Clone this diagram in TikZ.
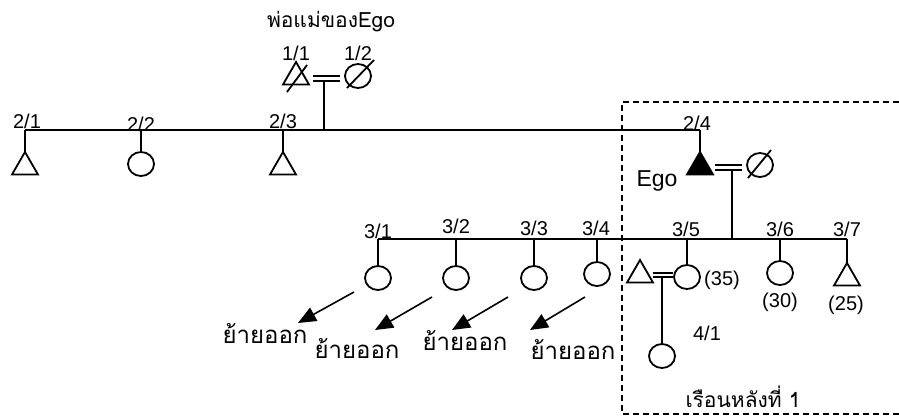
\documentclass[tikz,border=0pt]{standalone}
\usepackage{fontspec}
\setmainfont{Liberation Sans}
\newfontfamily\thaifont[Script=Thai]{Loma}
\usetikzlibrary{shapes.geometric,arrows.meta,calc}
\begin{document}
\begin{tikzpicture}[x=1pt,y=-1pt,line width=1.8pt,
  male/.style={regular polygon,regular polygon sides=3,minimum size=30pt,inner sep=0pt,outer sep=0pt,draw},
  female/.style={ellipse,minimum width=26pt,minimum height=24pt,inner sep=0pt,outer sep=0pt,draw},
  lbl/.style={anchor=base,inner sep=0pt,font=\fontsize{20}{22}\selectfont},
  thai/.style={anchor=base,inner sep=0pt,font=\thaifont\fontsize{24}{28}\selectfont},
  thaib/.style={anchor=base,inner sep=0pt,font=\thaifont\fontsize{21}{25}\selectfont},
  mig/.style={-{Triangle[length=18pt,width=15pt]},line width=1.6pt},
  box/.style={dash pattern=on 6pt off 4pt,line width=1.5pt}]
\useasboundingbox (0,0) rectangle (899,416);
% generation 1
\node[thaib] (tparents) at (331,27) {พ่อแม่ของEgo};
\node[male] (p11) at (296,77) {};
\node[female] (p12) at (358,76) {};
\draw ([shift={(-9,15)}]p11.center) -- ([shift={(11,-12)}]p11.center);
\draw ([shift={(-11,12)}]p12.center) -- ([shift={(16,-16)}]p12.center);
\node[lbl] (l11) at (296,60) {1/1};
\node[lbl] (l12) at (358,60) {1/2};
\coordinate (b1a) at (313,76); \coordinate (b1b) at (340,76);
\coordinate (b1c) at (313,81); \coordinate (b1d) at (340,81);
\draw (b1a) -- (b1b); \draw (b1c) -- (b1d);
\coordinate (m1) at (324,81);
% generation 2
\coordinate (g2L) at (25,130); \coordinate (g2R) at (700,130);
\draw (g2L) -- (g2R);
\draw (m1) -- (m1 |- g2L);
\node[male] (p21) at (25,167) {};
\node[female] (p22) at (141,164) {};
\node[male] (p23) at (283,167) {};
\node[male,fill=black] (ego) at (700,167) {};
\node[female] (p24w) at (760,165) {};
\draw ([shift={(-12,13)}]p24w.center) -- ([shift={(11,-15)}]p24w.center);
\foreach \n in {p21,p22,p23,ego} \draw (\n.north) -- (\n.north |- g2L);
\node[lbl] (l21) at (27,128) {2/1};
\node[lbl] (l22) at (141,131) {2/2};
\node[lbl] (l23) at (283,128) {2/3};
\node[lbl] (l24) at (697,130) {2/4};
\node[anchor=base,inner sep=0pt,font=\fontsize{23}{26}\selectfont] (lego) at (657,186) {Ego};
\coordinate (b2a) at (715,165); \coordinate (b2b) at (742,165);
\coordinate (b2c) at (715,170); \coordinate (b2d) at (742,170);
\draw (b2a) -- (b2b); \draw (b2c) -- (b2d);
\coordinate (m2) at (732,170);
% generation 3
\coordinate (g3L) at (378,239); \coordinate (g3R) at (847,239);
\draw (g3L) -- (g3R);
\draw (m2) -- (m2 |- g3L);
\node[female] (p31) at (378,278) {};
\node[female] (p32) at (456,278) {};
\node[female] (p33) at (534,278) {};
\node[female] (p34) at (597,274) {};
\node[female] (p35) at (687,277) {};
\node[female] (p36) at (780,273) {};
\node[male] (p37) at (847,278) {};
\foreach \n in {p31,p32,p33,p34,p35,p36,p37} \draw (\n.north) -- (\n.north |- g3L);
\node[lbl] (l31) at (378,238) {3/1};
\node[lbl] (l32) at (456,233) {3/2};
\node[lbl] (l33) at (534,235) {3/3};
\node[lbl] (l34) at (596,235) {3/4};
\node[lbl] (l35) at (686,236) {3/5};
\node[lbl] (l36) at (780,236) {3/6};
\node[lbl] (l37) at (847,236) {3/7};
\node[male] (p35h) at (640,275) {};
\coordinate (b3a) at (653,273); \coordinate (b3b) at (673,273);
\coordinate (b3c) at (653,277); \coordinate (b3d) at (673,277);
\draw (b3a) -- (b3b); \draw (b3c) -- (b3d);
\coordinate (m3) at (662,277);
\node[female] (p41) at (662,356) {};
\draw (m3) -- (p41.north);
\node[lbl] (a35) at (722,285) {(35)};
\node[lbl] (a36) at (780,307) {(30)};
\node[lbl] (a37) at (846,310) {(25)};
\node[lbl] (l41) at (707,340) {4/1};
% moved out
\coordinate (s1) at (354,292); \coordinate (e1) at (298,323);
\coordinate (s2) at (432,297); \coordinate (e2) at (375,330);
\coordinate (s3) at (508,297); \coordinate (e3) at (452,330);
\coordinate (s4) at (585,297); \coordinate (e4) at (530,330);
\draw[mig] (s1) -- (e1);
\draw[mig] (s2) -- (e2);
\draw[mig] (s3) -- (e3);
\draw[mig] (s4) -- (e4);
\node[thai] (t1) at (265,343) {ย้ายออก};
\node[thai] (t2) at (357,358) {ย้ายออก};
\node[thai] (t3) at (465,350) {ย้ายออก};
\node[thai] (t4) at (573,359) {ย้ายออก};
% household box
\coordinate (bx1) at (899,102); \coordinate (bx2) at (622,102);
\coordinate (bx3) at (622,414); \coordinate (bx4) at (899,414);
\draw[box] (bx1) -- (bx2) -- (bx3) -- (bx4);
\node[thaib] (thouse) at (743,407) {เรือนหลังที่ 1};
\end{tikzpicture}
\end{document}
